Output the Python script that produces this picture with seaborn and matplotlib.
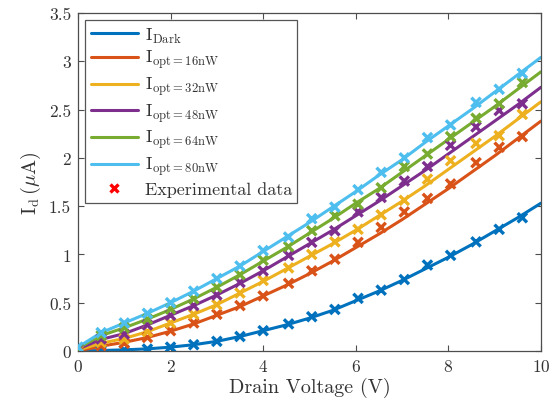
import numpy as np
import pandas as pd
import matplotlib
matplotlib.use('Agg')
import matplotlib.pyplot as plt
from matplotlib.lines import Line2D
import seaborn as sns

# ---- data ----
series = ['Dark', '16nW', '32nW', '48nW', '64nW', '80nW']
colors = ['#0072BD', '#D95319', '#EDB120', '#7E2F8E', '#77AC30', '#4DBEEE']

# fitted curves
v_fit = [0, 0.5, 1.0, 1.5, 2.0, 2.5, 3.0, 3.5, 4.0, 4.5, 5.0,
         5.5, 6.0, 6.5, 7.0, 7.5, 8.0, 8.5, 9.0, 9.5, 10.0]
fit_dark = [0, 0.005, 0.012, 0.022, 0.04, 0.065, 0.10, 0.15, 0.21, 0.27, 0.34,
            0.42, 0.52, 0.62, 0.73, 0.85, 0.97, 1.10, 1.24, 1.38, 1.53]
fit_16 = [0, 0.05, 0.09, 0.14, 0.205, 0.28, 0.37, 0.46, 0.57, 0.68, 0.80,
          0.93, 1.07, 1.21, 1.36, 1.52, 1.68, 1.85, 2.02, 2.20, 2.38]
fit_32 = [0.01, 0.08, 0.13, 0.20, 0.29, 0.38, 0.48, 0.60, 0.72, 0.85, 0.98,
          1.11, 1.25, 1.40, 1.55, 1.71, 1.88, 2.05, 2.22, 2.40, 2.58]
fit_48 = [0.02, 0.12, 0.18, 0.27, 0.37, 0.47, 0.58, 0.70, 0.83, 0.97, 1.11,
          1.25, 1.40, 1.55, 1.71, 1.87, 2.04, 2.21, 2.38, 2.55, 2.73]
fit_64 = [0.03, 0.16, 0.24, 0.33, 0.43, 0.54, 0.66, 0.79, 0.93, 1.07, 1.22,
          1.37, 1.53, 1.68, 1.85, 2.02, 2.19, 2.36, 2.53, 2.71, 2.89]
fit_80 = [0.04, 0.19, 0.29, 0.39, 0.50, 0.62, 0.75, 0.88, 1.03, 1.18, 1.33,
          1.49, 1.65, 1.82, 1.98, 2.16, 2.33, 2.50, 2.68, 2.86, 3.04]

# experimental points
v_meas = [0, 0.5, 1.0, 1.5, 2.0, 2.5, 3.0, 3.5, 4.0, 4.55,
          5.05, 5.55, 6.05, 6.55, 7.05, 7.55, 8.05, 8.6, 9.1, 9.6]
meas_dark = [0, 0.005, 0.01, 0.02, 0.04, 0.065, 0.10, 0.15, 0.21, 0.28,
             0.355, 0.43, 0.545, 0.63, 0.74, 0.89, 0.99, 1.13, 1.26, 1.38]
meas_16 = [0.0, 0.055, 0.08, 0.14, 0.21, 0.29, 0.38, 0.47, 0.57, 0.70,
           0.83, 0.95, 1.125, 1.28, 1.44, 1.58, 1.73, 1.95, 2.11, 2.22]
meas_32 = [0.01, 0.09, 0.124, 0.2, 0.29, 0.38, 0.48, 0.60, 0.73, 0.86,
           1.0, 1.13, 1.26, 1.41, 1.56, 1.78, 1.97, 2.15, 2.23, 2.45]
meas_48 = [0.02, 0.125, 0.176, 0.27, 0.37, 0.47, 0.58, 0.71, 0.83, 0.99,
           1.125, 1.245, 1.44, 1.59, 1.76, 1.91, 2.13, 2.32, 2.49, 2.56]
meas_64 = [0.03, 0.16, 0.24, 0.33, 0.435, 0.54, 0.66, 0.79, 0.94, 1.08,
           1.245, 1.40, 1.52, 1.69, 1.91, 2.04, 2.22, 2.41, 2.56, 2.78]
meas_80 = [0.04, 0.19, 0.29, 0.39, 0.50, 0.62, 0.75, 0.88, 1.04, 1.18,
           1.37, 1.49, 1.67, 1.85, 2.0, 2.21, 2.34, 2.575, 2.71, 2.875]

fits = [fit_dark, fit_16, fit_32, fit_48, fit_64, fit_80]
meas = [meas_dark, meas_16, meas_32, meas_48, meas_64, meas_80]

df_fit = pd.concat([pd.DataFrame({'V': v_fit, 'I': f, 'cond': s}) for s, f in zip(series, fits)])
df_meas = pd.concat([pd.DataFrame({'V': v_meas, 'I': m, 'cond': s}) for s, m in zip(series, meas)])

# ---- style ----
sns.set_style('ticks')
plt.rcParams['font.family'] = ['cmr10', 'DejaVu Serif']
plt.rcParams['mathtext.fontset'] = 'cm'
plt.rcParams['axes.formatter.use_mathtext'] = True
axis_col = '#4d4d4d'

fig = plt.figure(figsize=(5.57, 4.02), dpi=100)
ax = fig.add_axes([0.140, 0.1244, 0.831, 0.8408])

pal = dict(zip(series, colors))
sns.lineplot(data=df_fit, x='V', y='I', hue='cond', palette=pal, linewidth=2.2,
             legend=False, ax=ax, zorder=2)
sns.scatterplot(data=df_meas, x='V', y='I', hue='cond', palette=pal, marker='x',
                s=45, linewidth=2.4, legend=False, ax=ax, zorder=3)

ax.set_xlim(0, 10)
ax.set_ylim(0, 3.5)
ax.set_xticks([0, 2, 4, 6, 8, 10])
ax.set_yticks([0, 0.5, 1, 1.5, 2, 2.5, 3, 3.5])
ax.set_yticklabels(['0', '0.5', '1', '1.5', '2', '2.5', '3', '3.5'])
ax.tick_params(direction='in', top=True, right=True, length=4, width=0.8,
               color=axis_col, labelsize=12.5, labelcolor='#333333', pad=5)
for sp in ax.spines.values():
    sp.set_color(axis_col)
    sp.set_linewidth(0.9)

ax.set_xlabel('Drain Voltage (V)', fontsize=14.5, color='#333333', labelpad=2)
ax.set_ylabel(r'$\mathrm{I_d}\,(\mu\mathrm{A})$', fontsize=14.5, color='#333333', labelpad=4)

labels = [r'$\mathrm{I_{Dark}}$'] + [r'$\mathrm{I_{opt=%s}}$' % s for s in series[1:]]
handles = [Line2D([], [], color=c, lw=2.2) for c in colors]
handles.append(Line2D([], [], color='red', marker='x', ls='none', ms=6, mew=2.4))
labels.append('Experimental data')
leg = ax.legend(handles, labels, loc='upper left', fontsize=13, frameon=True,
                fancybox=False, handlelength=2.6, handletextpad=0.4,
                labelspacing=0.2, borderpad=0.3, borderaxespad=0.4)
leg.get_frame().set_edgecolor('#555555')
leg.get_frame().set_linewidth(0.9)
leg.get_frame().set_alpha(1)
for t in leg.get_texts():
    t.set_color('#333333')

fig.savefig('out.png', dpi=100)
